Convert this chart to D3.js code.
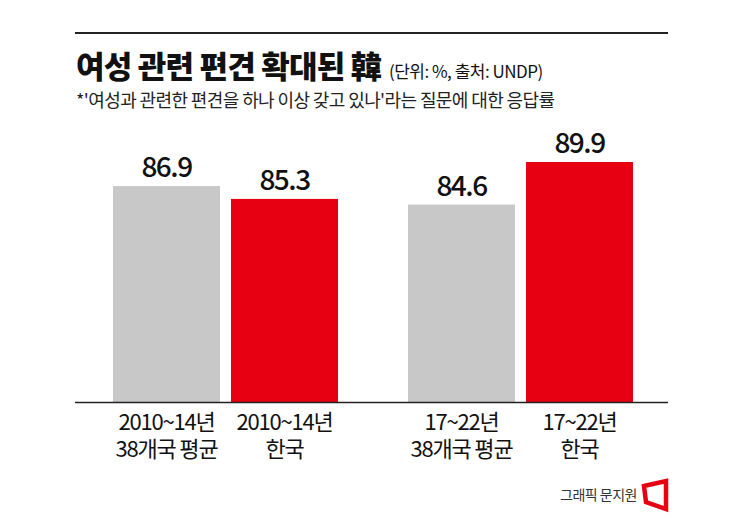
<!DOCTYPE html>
<html><head><meta charset="utf-8">
<script src="https://cdn.jsdelivr.net/npm/d3@7"></script>
<style>body{margin:0;background:#fff}text{font-family:"Noto Sans CJK KR","Noto Sans",sans-serif}</style>
</head><body><svg id="c" width="745" height="518"></svg>
<script>
var labels1 = ["2010~14년", "2010~14년", "17~22년", "17~22년"];
var labels2 = ["38개국 평균", "한국", "38개국 평균", "한국"];
var values = [86.9, 85.3, 84.6, 89.9];
var colors = ["#c8c8c8", "#e60012", "#c8c8c8", "#e60012"];

var svg = d3.select("#c");
svg.append("line").attr("x1", 75).attr("x2", 668).attr("y1", 33).attr("y2", 33).attr("stroke", "#222").attr("stroke-width", 2);
var t = svg.append("text").attr("x", 76).attr("y", 78).attr("font-size", 31).attr("font-weight", 900).attr("letter-spacing", -0.8).attr("fill", "#111").text("여성 관련 편견 확대된 韓");
t.append("tspan").attr("font-size", 17).attr("font-weight", 400).attr("letter-spacing", -0.5).attr("dx", 8).text("(단위: %, 출처: UNDP)");
svg.append("text").attr("x", 76).attr("y", 107).attr("font-size", 18).attr("letter-spacing", -0.6).attr("fill", "#222")
  .text("*'여성과 관련한 편견을 하나 이상 갖고 있나'라는 질문에 대한 응답률");

var y = d3.scaleLinear().domain([60, 89.9]).range([402, 162]);
var xs = [113, 231, 408, 526], bw = 107;

svg.selectAll("rect.b").data(values).enter().append("rect")
  .attr("x", function(d, i){ return xs[i]; }).attr("width", bw)
  .attr("y", function(d){ return y(d); }).attr("height", function(d){ return 402 - y(d); })
  .attr("fill", function(d, i){ return colors[i]; });
svg.selectAll("text.v").data(values).enter().append("text")
  .attr("x", function(d, i){ return xs[i] + bw / 2; }).attr("y", function(d){ return y(d) - 9; })
  .attr("text-anchor", "middle").attr("font-size", 28).attr("font-weight", 500).attr("fill", "#111")
  .attr("font-family", "Roboto").attr("letter-spacing", -1.5).text(function(d){ return d.toFixed(1); });

svg.append("line").attr("x1", 75).attr("x2", 668).attr("y1", 402.5).attr("y2", 402.5).attr("stroke", "#222").attr("stroke-width", 1.5);
[labels1, labels2].forEach(function(arr, r){
  svg.selectAll(null).data(arr).enter().append("text")
    .attr("x", function(d, i){ return xs[i] + bw / 2; }).attr("y", 430 + r * 27)
    .attr("text-anchor", "middle").attr("font-size", 22).attr("fill", "#111").attr("letter-spacing", -1.2).text(function(d){ return d; });
});

svg.append("text").attr("x", 637).attr("y", 500).attr("text-anchor", "end").attr("font-size", 14).attr("letter-spacing", -0.5).attr("fill", "#333").text("그래픽 문지원");
svg.append("path").attr("d", "M644,486 L666,481 L666,509 L646,502 Z").attr("fill", "none").attr("stroke", "#e60012").attr("stroke-width", 4.5);
</script></body></html>
